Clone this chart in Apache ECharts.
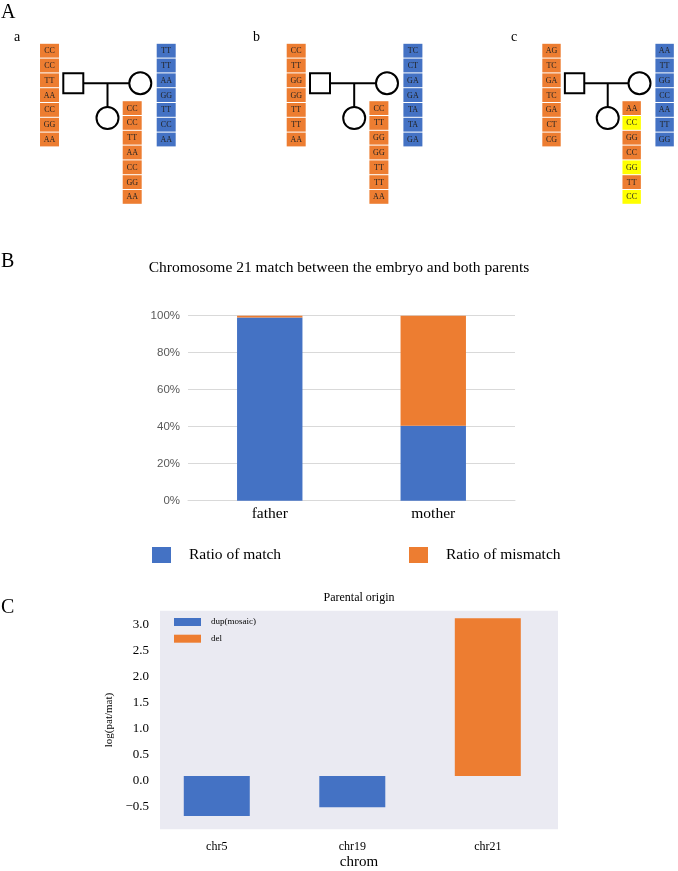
<!DOCTYPE html>
<html>
<head>
<meta charset="utf-8">
<script src="https://cdn.jsdelivr.net/npm/echarts@6/dist/echarts.min.js"></script>
<style>
html,body{margin:0;padding:0;background:#fff;}
#main{width:678px;height:871px;}
</style>
</head>
<body>
<div id="main"></div>
<script>
// ---------- Panel A data ----------
const pedigreeNames = ['a', 'b', 'c'];
const fatherA = ['CC', 'CC', 'TT', 'AA', 'CC', 'GG', 'AA'];
const motherA = ['TT', 'TT', 'AA', 'GG', 'TT', 'CC', 'AA'];
const childA  = ['CC', 'CC', 'TT', 'AA', 'CC', 'GG', 'AA'];
const childMarksA = [0, 0, 0, 0, 0, 0, 0];
const fatherB = ['CC', 'TT', 'GG', 'GG', 'TT', 'TT', 'AA'];
const motherB = ['TC', 'CT', 'GA', 'GA', 'TA', 'TA', 'GA'];
const childB  = ['CC', 'TT', 'GG', 'GG', 'TT', 'TT', 'AA'];
const childMarksB = [0, 0, 0, 0, 0, 0, 0];
const fatherC = ['AG', 'TC', 'GA', 'TC', 'GA', 'CT', 'CG'];
const motherC = ['AA', 'TT', 'GG', 'CC', 'AA', 'TT', 'GG'];
const childC  = ['AA', 'CC', 'GG', 'CC', 'GG', 'TT', 'CC'];
const childMarksC = [0, 1, 0, 0, 1, 0, 1];

// ---------- Panel B data ----------
const parentCats = ['father', 'mother'];
const matchRatio = [99, 40.5];
const mismatchRatio = [1, 59.5];

// ---------- Panel C data ----------
const chroms = ['chr5', 'chr19', 'chr21'];
const dupMosaic = [-0.77, -0.6, null];
const delValues = [null, null, 3.04];

// ---------- styling / layout ----------
const BLUE = '#4472C4', ORANGE = '#ED7D31', YELLOW = '#FFFF00';
const SERIF = '"Liberation Serif", "Times New Roman", serif';
const pedLeft = [40, 286.7, 542.3];   // grid left per pedigree
const PED_TOP = 43.3;
const COL_LEFT = [0, 82.7, 116.7];    // father, child, mother column offsets
const COL_TOP = [0, 57.4, 0];
const CELL_W = 19, PITCH = 14.8;

const pedigrees = [
  {father: fatherA, mother: motherA, child: childA, marks: childMarksA},
  {father: fatherB, mother: motherB, child: childB, marks: childMarksB},
  {father: fatherC, mother: motherC, child: childC, marks: childMarksC}
];

const grids = [], xAxes = [], yAxes = [], series = [];

pedigrees.forEach((ped, p) => {
  grids.push({left: pedLeft[p], top: PED_TOP, width: 140, height: 165, show: false});
  xAxes.push({type: 'value', gridIndex: p, min: 0, max: 140, show: false});
  yAxes.push({type: 'value', gridIndex: p, min: 0, max: 165, inverse: true, show: false});
  const cells = [];
  ped.father.forEach((g, r) => cells.push({col: 0, row: r, geno: g, color: ORANGE}));
  ped.child.forEach((g, r) => cells.push({col: 1, row: r, geno: g, color: ped.marks[r] ? YELLOW : ORANGE}));
  ped.mother.forEach((g, r) => cells.push({col: 2, row: r, geno: g, color: BLUE}));
  series.push({
    type: 'custom', xAxisIndex: p, yAxisIndex: p, silent: true,
    data: cells.map(c => [c.col, c.row]),
    renderItem: function (params, api) {
      const c = cells[params.dataIndex];
      const pt = api.coord([COL_LEFT[c.col], COL_TOP[c.col] + c.row * PITCH]);
      const sz = api.size([CELL_W, PITCH]);
      return {type: 'group', children: [
        {type: 'rect', shape: {x: pt[0], y: pt[1] + 0.5, width: sz[0], height: sz[1] - 1}, style: {fill: c.color}},
        {type: 'text', style: {text: c.geno, x: pt[0] + sz[0] / 2, y: pt[1] + sz[1] / 2 + 0.5,
          align: 'center', verticalAlign: 'middle', font: '8px ' + SERIF, fill: '#222'}}
      ]};
    }
  });
  // pedigree symbols
  series.push({
    type: 'custom', xAxisIndex: p, yAxisIndex: p, silent: true,
    data: [[0, 0]],
    renderItem: function (params, api) {
      const sq = api.coord([23.3, 30]);
      const sqE = api.coord([43.3, 50]);
      const mc = api.coord([100.3, 40]);
      const ml = api.coord([43.3, 40]);
      const mr = api.coord([89.3, 40]);
      const vt = api.coord([67.5, 40]);
      const vb = api.coord([67.5, 63.5]);
      const cc = api.coord([67.5, 74.8]);
      const ls = {stroke: '#000', lineWidth: 2, fill: 'none'};
      return {type: 'group', children: [
        {type: 'line', shape: {x1: ml[0], y1: ml[1], x2: mr[0], y2: mr[1]}, style: ls},
        {type: 'line', shape: {x1: vt[0], y1: vt[1], x2: vb[0], y2: vb[1]}, style: ls},
        {type: 'rect', shape: {x: sq[0], y: sq[1], width: sqE[0] - sq[0], height: sqE[1] - sq[1]}, style: {stroke: '#000', lineWidth: 2, fill: '#fff'}},
        {type: 'circle', shape: {cx: mc[0], cy: mc[1], r: 11}, style: {stroke: '#000', lineWidth: 2, fill: '#fff'}},
        {type: 'circle', shape: {cx: cc[0], cy: cc[1], r: 11}, style: {stroke: '#000', lineWidth: 2, fill: '#fff'}}
      ]};
    }
  });
});

// Panel B grid (index 3)
grids.push({left: 188, top: 315.7, width: 327, height: 185, show: false});
xAxes.push({type: 'category', gridIndex: 3, data: parentCats,
  axisLine: {lineStyle: {color: '#d9d9d9'}}, axisTick: {show: false},
  axisLabel: {color: '#000', fontFamily: SERIF, fontSize: 15.5, margin: 5}});
yAxes.push({type: 'value', gridIndex: 3, min: 0, max: 100, interval: 20,
  axisLine: {show: false}, axisTick: {show: false},
  splitLine: {lineStyle: {color: '#d9d9d9', width: 1}},
  axisLabel: {formatter: '{value}%', color: '#595959', fontFamily: '"Liberation Sans", Arial, sans-serif', fontSize: 11.5, margin: 8}});
series.push({name: 'Ratio of match', type: 'bar', stack: 'b', xAxisIndex: 3, yAxisIndex: 3,
  barWidth: '40%', itemStyle: {color: BLUE}, data: matchRatio, silent: true});
series.push({name: 'Ratio of mismatch', type: 'bar', stack: 'b', xAxisIndex: 3, yAxisIndex: 3,
  barWidth: '40%', itemStyle: {color: ORANGE}, data: mismatchRatio, silent: true});

// Panel C grid (index 4)
grids.push({left: 160, top: 610.7, width: 398, height: 218.6, show: true, backgroundColor: '#EAEAF2', borderWidth: 0});
xAxes.push({type: 'value', gridIndex: 4, min: -0.419, max: 2.518, splitNumber: 3,
  axisLine: {show: false}, axisTick: {show: false}, splitLine: {show: false},
  name: 'chrom', nameLocation: 'middle', nameGap: 25,
  nameTextStyle: {fontFamily: SERIF, fontSize: 15, color: '#000'},
  axisLabel: {showMinLabel: false, showMaxLabel: false, margin: 12,
    fontFamily: SERIF, fontSize: 12, color: '#000',
    formatter: function (v) {
      const i = Math.round(v);
      return (Math.abs(v - i) < 1e-6 && chroms[i] !== undefined) ? chroms[i] : '';
    }}});
yAxes.push({type: 'value', gridIndex: 4, min: -1.027, max: 3.185, splitNumber: 8,
  axisLine: {show: false}, axisTick: {show: false}, splitLine: {show: false},
  name: 'log(pat/mat)', nameLocation: 'middle', nameGap: 45,
  nameTextStyle: {fontFamily: SERIF, fontSize: 11, color: '#000'},
  axisLabel: {margin: 11, fontFamily: SERIF, fontSize: 13, color: '#000', verticalAlign: 'top', lineHeight: 9,
    formatter: function (v) {
      const r = Math.round(v * 2) / 2;
      if (Math.abs(v - r) > 1e-6 || v < -0.75 || v > 3.05) return '';
      return (v < 0 ? '\u2212' : '') + Math.abs(v).toFixed(1);
    }}});
series.push({name: 'dup(mosaic)', type: 'bar', xAxisIndex: 4, yAxisIndex: 4, barWidth: 66, barGap: '-100%',
  itemStyle: {color: BLUE}, silent: true,
  data: chroms.map((c, i) => dupMosaic[i] == null ? null : [i, dupMosaic[i]]).filter(d => d)});
series.push({name: 'del', type: 'bar', xAxisIndex: 4, yAxisIndex: 4, barWidth: 66, barGap: '-100%',
  itemStyle: {color: ORANGE}, silent: true,
  data: chroms.map((c, i) => delValues[i] == null ? null : [i, delValues[i]]).filter(d => d)});

const chart = echarts.init(document.getElementById('main'), null, {renderer: 'canvas'});
chart.setOption({
  animation: false,
  backgroundColor: '#fff',
  title: [
    {text: 'Chromosome 21 match between the embryo and both parents', left: 339, top: 260, textAlign: 'center',
      textStyle: {fontFamily: SERIF, fontSize: 15.5, fontWeight: 'normal', color: '#000'}, padding: 0},
    {text: 'Parental origin', left: 359, top: 592, textAlign: 'center',
      textStyle: {fontFamily: SERIF, fontSize: 12, fontWeight: 'normal', color: '#000'}, padding: 0}
  ],
  legend: [
    {data: ['Ratio of match'], left: 152, top: 546, padding: 0, selectedMode: false,
      icon: 'rect', itemWidth: 19, itemHeight: 16,
      textStyle: {fontFamily: SERIF, fontSize: 15.5, color: '#000', lineHeight: 18, padding: [0, 0, 0, 13]}},
    {data: ['Ratio of mismatch'], left: 409, top: 546, padding: 0, selectedMode: false,
      icon: 'rect', itemWidth: 19, itemHeight: 16,
      textStyle: {fontFamily: SERIF, fontSize: 15.5, color: '#000', lineHeight: 18, padding: [0, 0, 0, 13]}},
    {data: ['dup(mosaic)'], left: 174, top: 616, padding: 0, selectedMode: false,
      icon: 'rect', itemWidth: 27, itemHeight: 8,
      textStyle: {fontFamily: SERIF, fontSize: 9, color: '#000', lineHeight: 12, padding: [0, 0, 0, 5]}},
    {data: ['del'], left: 174, top: 632.7, padding: 0, selectedMode: false,
      icon: 'rect', itemWidth: 27, itemHeight: 8,
      textStyle: {fontFamily: SERIF, fontSize: 9, color: '#000', lineHeight: 12, padding: [0, 0, 0, 5]}}
  ],
  graphic: [
    {type: 'text', left: 1, top: 3, style: {text: 'A', font: '20px ' + SERIF, fill: '#000'}},
    {type: 'text', left: 14, top: 30, style: {text: pedigreeNames[0], font: '14px ' + SERIF, fill: '#000'}},
    {type: 'text', left: 253, top: 30, style: {text: pedigreeNames[1], font: '14px ' + SERIF, fill: '#000'}},
    {type: 'text', left: 511, top: 30, style: {text: pedigreeNames[2], font: '14px ' + SERIF, fill: '#000'}},
    {type: 'text', left: 1, top: 252, style: {text: 'B', font: '20px ' + SERIF, fill: '#000'}},
    {type: 'text', left: 1, top: 598, style: {text: 'C', font: '20px ' + SERIF, fill: '#000'}}
  ],
  grid: grids,
  xAxis: xAxes,
  yAxis: yAxes,
  series: series
});
</script>
</body>
</html>
